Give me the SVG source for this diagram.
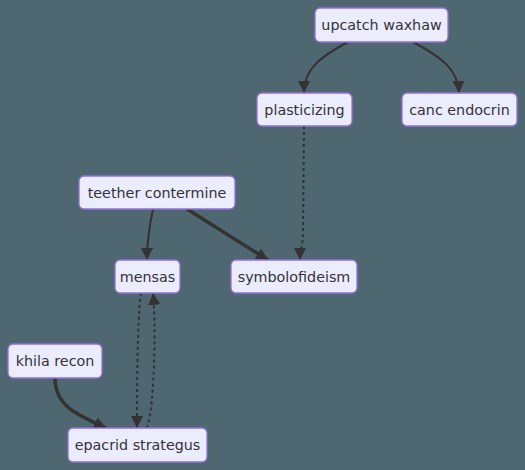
<svg xmlns="http://www.w3.org/2000/svg" width="525" height="470" viewBox="0 0 525 470">
<style>
.n rect{fill:#ECECFF;stroke:#9370DB;stroke-width:1.3}
.n text{font-family:"DejaVu Sans",sans-serif;font-size:14.3px;fill:#333;text-anchor:middle}
.e{fill:none;stroke:#333;stroke-width:2}
.t{stroke-width:3.5}
.d{stroke-dasharray:3 3}
</style>
<defs>
<marker id="ah" viewBox="0 0 10 10" refX="10" refY="5" markerWidth="12" markerHeight="12" markerUnits="userSpaceOnUse" orient="auto"><path d="M0,0L10,5L0,10z" fill="#333"/></marker>
</defs>
<rect width="525" height="470" fill="#4F6770"/>
<g id="edges">
<path class="e" d="M348,42 C318,58 304,70 304,93" marker-end="url(#ah)"/>
<path class="e" d="M413,42 C443,58 458,70 459,93" marker-end="url(#ah)"/>
<path class="e d" d="M304,126 L303,230 C303,245 300,252 300,260" marker-end="url(#ah)"/>
<path class="e" d="M153,209 C149,228 147,240 147,260" marker-end="url(#ah)"/>
<path class="e t" d="M187,209 L268,260" marker-end="url(#ah)"/>
<path class="e d" d="M141,293 C137,320 137,400 137,428" marker-end="url(#ah)"/>
<path class="e d" d="M147,428 C155,405 156,320 153,293" marker-end="url(#ah)"/>
<path class="e t" d="M55,378 C55,405 75,414 106,428" marker-end="url(#ah)"/>
</g>
<g id="upcatch" class="n"><rect x="315" y="8" width="133" height="34" rx="5"/><text x="381.5" y="30">upcatch waxhaw</text></g>
<g id="plasticizing" class="n"><rect x="257" y="93" width="95" height="33" rx="5"/><text x="304.5" y="114.5">plasticizing</text></g>
<g id="canc" class="n"><rect x="402" y="93" width="115" height="33" rx="5"/><text x="459.5" y="114.5">canc endocrin</text></g>
<g id="teether" class="n"><rect x="79" y="176" width="156" height="33" rx="5"/><text x="157" y="197.5">teether contermine</text></g>
<g id="mensas" class="n"><rect x="115" y="260" width="65" height="33" rx="5"/><text x="147.5" y="281.5">mensas</text></g>
<g id="symbolofideism" class="n"><rect x="231" y="260" width="126" height="33" rx="5"/><text x="294" y="281.5">symbolofideism</text></g>
<g id="khila" class="n"><rect x="8" y="344" width="94" height="34" rx="5"/><text x="55" y="366">khila recon</text></g>
<g id="epacrid" class="n"><rect x="68" y="428" width="139" height="34" rx="5"/><text x="137.5" y="450">epacrid strategus</text></g>
</svg>
